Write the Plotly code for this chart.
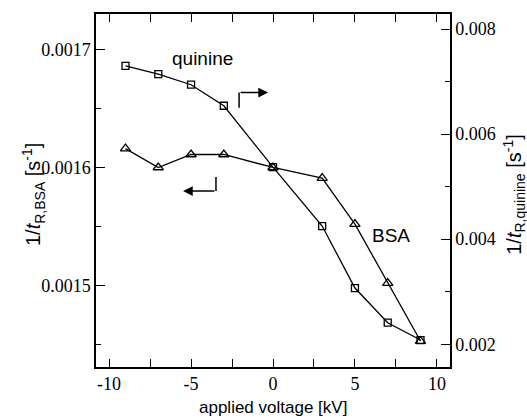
import plotly.graph_objects as go

voltage = [-9, -7, -5, -3, 0, 3, 5, 7, 9]
bsa_rate = [0.001616, 0.0016, 0.001611, 0.001611, 0.0016, 0.001591, 0.001552, 0.001502, 0.001453]
quinine_rate = [0.00730, 0.00714, 0.00694, 0.00654, 0.00537, 0.00425, 0.00307, 0.00241, 0.00208]

x_ticks = [-10, -5, 0, 5, 10]
left_ticks = [0.0015, 0.0016, 0.0017]
right_ticks = [0.002, 0.004, 0.006, 0.008]

serif = "Liberation Serif, Times New Roman, Times, serif"
sans = "Liberation Sans, Arial, sans-serif"

fig = go.Figure()
fig.add_trace(go.Scatter(
    x=voltage, y=bsa_rate, mode="lines+markers", name="BSA",
    line=dict(color="black", width=1.3),
    marker=dict(symbol="triangle-up-open", size=9, color="black", line=dict(width=1.3)),
    yaxis="y", showlegend=False))
fig.add_trace(go.Scatter(
    x=voltage, y=quinine_rate, mode="lines+markers", name="quinine",
    line=dict(color="black", width=1.3),
    marker=dict(symbol="square-open", size=7, color="black", line=dict(width=1.3)),
    yaxis="y2", showlegend=False))

fig.update_layout(
    width=527, height=420,
    margin=dict(l=96, r=77, t=14, b=53),
    paper_bgcolor="white", plot_bgcolor="white",
    xaxis=dict(
        range=[-10.8, 10.8], tickvals=x_ticks, ticktext=[str(v) for v in x_ticks],
        ticks="inside", ticklen=8, tickwidth=1.3, tickcolor="black",
        minor=dict(dtick=2.5, tick0=0, ticks="inside", ticklen=4, tickwidth=1.3, tickcolor="black"),
        showline=True, linecolor="black", linewidth=1.5, mirror="allticks",
        showgrid=False, zeroline=False, automargin=False,
        tickfont=dict(family=serif, size=18, color="black"),
    ),
    yaxis=dict(
        range=[0.001431, 0.00173], tickvals=left_ticks, ticktext=["0.0015", "0.0016", "0.0017"],
        ticks="inside", ticklen=9, tickwidth=1.3, tickcolor="black",
        minor=dict(dtick=0.00005, tick0=0, ticks="inside", ticklen=5, tickwidth=1.3, tickcolor="black"),
        showline=True, linecolor="black", linewidth=1.5, mirror=False,
        showgrid=False, zeroline=False, automargin=False,
        tickfont=dict(family=serif, size=18, color="black"),
    ),
    yaxis2=dict(
        overlaying="y", side="right",
        range=[0.001567, 0.008286], tickvals=right_ticks, ticktext=["0.002", "0.004", "0.006", "0.008"],
        ticks="inside", ticklen=9, tickwidth=1.3, tickcolor="black",
        minor=dict(dtick=0.001, tick0=0, ticks="inside", ticklen=5, tickwidth=1.3, tickcolor="black"),
        showline=True, linecolor="black", linewidth=1.5,
        showgrid=False, zeroline=False, automargin=False,
        tickfont=dict(family=serif, size=18, color="black"),
    ),
)

# axis titles
fig.add_annotation(x=0.5, y=-0.116, xref="paper", yref="paper", text="applied voltage [kV]",
                   xanchor="center", yanchor="middle",
                   showarrow=False, font=dict(family=sans, size=17, color="black"))
fig.add_annotation(x=-0.178, y=0.49, xref="paper", yref="paper", textangle=-90,
                   xanchor="center", yanchor="middle",
                   text="1/<i>t</i><sub>R,BSA</sub> [s<sup>-1</sup>]",
                   showarrow=False, font=dict(family=sans, size=20, color="black"))
fig.add_annotation(x=1.18, y=0.49, xref="paper", yref="paper", textangle=-90,
                   xanchor="center", yanchor="middle",
                   text="1/<i>t</i><sub>R,quinine</sub> [s<sup>-1</sup>]",
                   showarrow=False, font=dict(family=sans, size=20, color="black"))

# labels
fig.add_annotation(x=-4.33, y=0.00743, xref="x", yref="y2", text="quinine", showarrow=False,
                   font=dict(family=sans, size=19, color="black"))
fig.add_annotation(x=7.2, y=0.0015426, xref="x", yref="y", text="BSA", showarrow=False,
                   font=dict(family=sans, size=19, color="black"))

# axis indicator arrows (L-shaped)
fig.add_shape(type="line", x0=-2.07, x1=-2.07, y0=0.0065, y1=0.00679, xref="x", yref="y2",
              line=dict(color="black", width=1.5))
fig.add_annotation(x=-0.3, y=0.00679, ax=-2.07, ay=0.00679, xref="x", yref="y2", axref="x", ayref="y2",
                   text="", showarrow=True, arrowhead=2, arrowsize=1.3, arrowwidth=1.5, arrowcolor="black")
fig.add_shape(type="line", x0=-3.48, x1=-3.48, y0=0.001592, y1=0.00158, xref="x", yref="y",
              line=dict(color="black", width=1.5))
fig.add_annotation(x=-5.49, y=0.00158, ax=-3.48, ay=0.00158, xref="x", yref="y", axref="x", ayref="y",
                   text="", showarrow=True, arrowhead=2, arrowsize=1.3, arrowwidth=1.5, arrowcolor="black")

# remove the default page margin so the 527x420 figure fills the window exactly
fig.write_html("out.html", config={"displayModeBar": False},
               post_script="document.body.style.margin='0';document.body.style.overflow='hidden';")
